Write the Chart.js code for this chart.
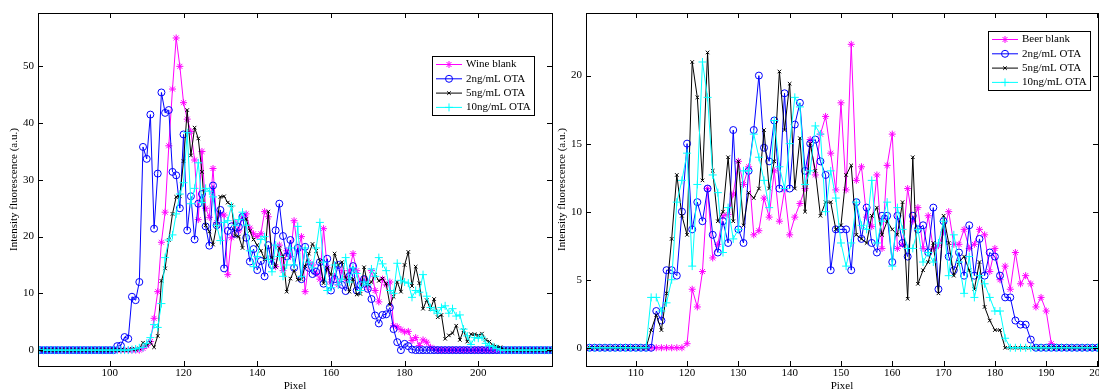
<!DOCTYPE html>
<html>
<head>
<meta charset="utf-8">
<script src="https://cdn.jsdelivr.net/npm/chart.js@4.4.1/dist/chart.umd.min.js"></script>
<style>
  html, body { margin: 0; padding: 0; background: #fff; }
  #wrap { position: relative; width: 1099px; height: 391px; overflow: hidden; }
  canvas { position: absolute; top: 0; }
  #wineChart { left: 0; }
  #beerChart { left: 556px; }
</style>
</head>
<body>
<div id="wrap">
  <canvas id="wineChart" width="556" height="391"></canvas>
  <canvas id="beerChart" width="543" height="391"></canvas>
</div>
<script>
// ---- left panel: wine, pixels 81..220 ----
const wineXTicks = [100, 120, 140, 160, 180, 200];
const wineYTicks = [0, 10, 20, 30, 40, 50];
const wineLabels = ['Wine blank', '2ng/mL OTA', '5ng/mL OTA', '10ng/mL OTA'];

const wineBlank = [
  0,0,0,0,0,0,0,0,0,0,0,0,0,0,0,0,0,0,0,0,0,0,0,0,0,0,0,0,
  0.3,0.8,1.5,5.6,10.3,19,24.3,36,46,55,50,43.6,40.7,38.5,33.5,23,35,25,23.4,32,22.5,24,
  23.8,13.3,19.8,22.5,21,23.5,24,21.5,20.5,20,20.5,24.4,23.5,16,14.7,18.5,14,17.5,16.5,22.8,
  17.5,20,10.3,15.5,15,13.5,12.5,21.4,14.5,12,13,11.5,14,12.5,14,17,14,12,12.5,11,
  14,10.5,8.5,12.5,11.5,12,4.3,4.1,3.6,3.2,3.3,1.7,2.2,0.8,1.8,1.4,0.5,0.2,
  0,0,0,0,0,0,0,0,0,0,0,0,0,0,0,0,0,0,0,0,0,0,0,0,0,0,0,0,0,0,0,0
];
const wine2 = [
  0,0,0,0,0,0,0,0,0,0,0,0,0,0,0,0,0,0,0,0,0,
  0.7,0.8,2.3,2.0,9.4,8.8,12,35.8,33.7,41.5,21.4,31.1,45.4,41.8,42.3,31.4,30.8,25,38,
  21.1,27.1,19.5,25.8,27.5,21.8,18.4,29,22,24.7,14.4,21,21.8,20.5,21.7,23.5,19.8,15.6,17.8,14.1,
  15.7,13,18.5,15,21.1,25.8,20.1,16.5,19.4,14.5,18,12.5,18.2,14.5,13.4,13.8,15.5,11.7,16.1,10.5,
  12.5,15,11.5,10.4,13,14.8,10.5,11.5,12.5,10.8,9,6.1,4.7,6.2,6.3,7.5,3.7,1.4,0,1.1,0.7,0.1,
  0,0,0,0,0,0,0,0,0,0,0,0,0,0,0,0,0,0,0,0,0,0,0,0,0,0,0,0,0,0,0,0,0,0,0,0,0,0
];
const wine5 = [
  0,0,0,0,0,0,0,0,0,0,0,0,0,0,0,0,0,0,0,0,0,0,0,0,0,
  0.2,0.1,0.3,1.3,0.9,1.3,0.5,2.5,12.2,14.4,19.4,24,27,27.1,33.3,
  42.3,34.3,39.2,37.3,31.4,22,20.9,18.6,22,27,27.1,26,25.5,20.2,20,18,23.1,21,19.5,18.5,
  17.5,16,24.4,16.3,14.7,18,16.5,10.3,12.6,14,12.4,12.5,14.8,17,18.7,17.5,15.7,11.8,14.5,13.3,
  17,15,15.5,12.7,10.3,12.5,9.8,9.9,14.6,11.5,12,13.3,12.2,12.6,11.7,8,9.4,12,10.3,15,
  17.3,11.3,14.7,11.8,7.3,8.8,7.2,9,5.8,6.2,2,2.6,3,4.3,1.8,3.5,1.5,2.8,2.8,2.6,
  2.9,1.8,1.5,0.8,0.6,0.5,0.1,
  0,0,0,0,0,0,0,0,0,0,0,0,0
];
const wine10 = [
  0,0,0,0,0,0,0,0,0,0,0,0,0,0,0,0,0,0,0,0,0,0,0,0,0,
  0.1,0.2,0.4,0.5,1.2,2.2,4.5,4,8.2,16.3,19.4,20.3,24,27.5,29.5,
  38.3,25.8,28.5,33,26,28.5,28,27,22,19.3,22.5,22.8,25.4,22,23,24.3,22,17.5,14.7,16.5,
  19.5,20,16,13.8,18.5,16.5,13,15,18,15,21.8,13,18,15.5,14.5,18,22.5,15.5,10.5,11,
  15,11.5,12.5,16.3,12,14.5,13.5,10.5,12,11.5,14.3,13,16.3,15.2,14,10.5,10,15.3,12.3,12,
  11.8,9.3,10.5,10.2,13.3,9.5,7.5,7,6.5,7.5,7.8,6.5,7.3,6,6.2,3.7,2.5,1,2.2,2.1,
  2.3,1.2,0.8,0.6,0.3,
  0,0,0,0,0,0,0,0,0,0,0,0,0,0,0
];

// ---- right panel: beer, pixels 101..200 ----
const beerXTicks = [110, 120, 130, 140, 150, 160, 170, 180, 190, 200];
const beerYTicks = [0, 5, 10, 15, 20];
const beerLabels = ['Beer blank', '2ng/mL OTA', '5ng/mL OTA', '10ng/mL OTA'];

const beerBlank = [
  0,0,0,0,0,0,0,0,0,0,0,0,0,0,0,0,0,0,0,
  0.3,4.3,3,5.6,11.7,6.6,7.6,9.7,9.8,11.3,13.7,12,13.3,8.3,8.6,11,9.6,13,9.3,11.6,
  8.3,9.6,10.6,11.7,15.3,12.7,15.7,17,14.3,11.6,18,11.6,22.3,12.3,13.3,9.6,8.9,12.7,7.3,13.4,
  15.7,7.3,7.6,11.7,9.3,10.3,7.3,9.7,7.3,7.5,8.5,10,7.6,7.6,8.7,7.3,7.6,8.7,8.3,5.6,
  7.3,5,6,4.3,7,4.7,5.3,4.7,3,3.7,2.7,0.3,
  0,0,0,0,0,0,0,0,0
];
const beer2 = [
  0,0,0,0,0,0,0,0,0,0,0,0,0,
  2.7,2,5.7,5.7,5.3,10,15,8.7,10.7,9.3,11.7,8.3,7,9.3,7.7,16,8.7,7.7,13,16,
  20,14.7,13.7,16.7,11.7,18.7,11.7,16.4,18,13,15,15.3,13.7,12.7,5.7,8.7,8.7,8.7,5.7,10.7,
  8,10.3,7.7,7,9.7,9.7,6.3,9.7,7.7,6.7,9.7,8.7,9,7,10.3,4.3,9.3,6.7,5.7,7,
  5.3,9,5.3,8,5.3,7,6.7,5.3,3.7,3.7,2,1.7,1.7,0.6,
  0,0,0,0,0,0,0,0,0,0,0,0,0
];
const beer5 = [
  0,0,0,0,0,0,0,0,0,0,0,0,
  1.3,2.4,1.3,4,8,12.7,9.7,8.3,21,18.4,12.3,21.7,13,9.3,10,14,9.3,13.7,9,11.4,
  11,11.7,16,11.7,13.7,20.3,16,19.4,11.7,15.4,10,15,13,9.7,10.7,10.7,8.7,9,12.7,13.4,
  8.3,8,7.7,9.7,10.3,8.3,9.3,8.7,8.3,10.7,3.6,14,4.7,5.7,6.3,7.7,4,9.7,7.7,5.3,
  6.3,6.7,5.7,4.3,6.3,3,2,1.3,1.3,
  0,0,0,0,0,0,0,0,0,0,0,0,0,0,0,0,0,0,0
];
const beer10 = [
  0,0,0,0,0,0,0,0,0,0,0,0,
  3.7,3.7,2.7,3.3,5,10.7,12.3,14.3,6,12,21,18.4,12.7,11.4,7,10.3,8,8.7,13,13,
  15.7,14,12.3,10.3,16.7,13.3,11.7,15,18.4,17.7,12,13,16.3,15.7,10,13,11,7.7,6,7.7,
  10.7,9,8.7,12.3,7.7,9.3,10.7,6,10.3,8.7,7.3,7.3,8.7,6.3,7,6.3,7.7,9.3,5.3,8.3,
  6.3,4,6.7,3.7,5.3,4.7,3.7,2.7,2.7,0.7,
  0,0,0,0,0,0,0,0,0,0,0,0,0,0,0,0,0,0
];

const range = (a, b) => Array.from({length: b - a + 1}, (_, i) => a + i);
const winePixels = range(81, 220);
const beerPixels = range(101, 200);

Chart.defaults.font.family = '"Liberation Serif", "Times New Roman", serif';
Chart.defaults.font.size = 11;
Chart.defaults.color = '#000';

// matlab style: full box with inward ticks on all four sides
const boxAxes = {
    id: 'boxAxes',
    afterDatasetsDraw(chart) {
        const { ctx, chartArea: a, scales: { x, y } } = chart;
        const len = 5;
        ctx.save();
        ctx.strokeStyle = '#000';
        ctx.lineWidth = 1;
        ctx.beginPath();
        x.ticks.forEach(t => {
            const px = Math.round(x.getPixelForValue(t.value)) + 0.5;
            ctx.moveTo(px, a.bottom); ctx.lineTo(px, a.bottom - len);
            ctx.moveTo(px, a.top); ctx.lineTo(px, a.top + len);
        });
        y.ticks.forEach(t => {
            const py = Math.round(y.getPixelForValue(t.value)) + 0.5;
            ctx.moveTo(a.left, py); ctx.lineTo(a.left + len, py);
            ctx.moveTo(a.right, py); ctx.lineTo(a.right - len, py);
        });
        ctx.stroke();
        ctx.strokeRect(Math.round(a.left) + 0.5, Math.round(a.top) + 0.5,
            Math.round(a.right - a.left), Math.round(a.bottom - a.top));
        ctx.restore();
    }
};

const boxLegend = {
    id: 'boxLegend',
    afterDraw(chart, args, opts) {
        const { ctx } = chart;
        const { left, top, width, height } = opts;
        ctx.save();
        ctx.fillStyle = '#fff';
        ctx.fillRect(left, top, width, height);
        ctx.strokeStyle = '#000';
        ctx.lineWidth = 1;
        ctx.strokeRect(left + 0.5, top + 0.5, width, height);
        ctx.font = '11px "Liberation Serif", serif';
        ctx.textBaseline = 'middle';
        chart.data.datasets.forEach((ds, i) => {
            const yy = top + 8.5 + i * 14.3;
            ctx.strokeStyle = ds.borderColor;
            ctx.lineWidth = 1;
            ctx.beginPath();
            ctx.moveTo(left + 4, yy);
            ctx.lineTo(left + 30, yy);
            ctx.stroke();
            ctx.fillStyle = 'rgba(0,0,0,0)';
            Chart.helpers.drawPoint(ctx, {
                pointStyle: ds.pointStyle, radius: ds.pointRadius, borderWidth: 1, rotation: 0
            }, left + 17, yy);
            ctx.fillStyle = '#000';
            ctx.fillText(ds.label, left + 34, yy);
        });
        ctx.restore();
    }
};

function makeSet(label, pixels, values, color, style, radius, order) {
    return {
        label,
        data: values.map((v, i) => ({ x: pixels[i], y: v })),
        borderColor: color,
        backgroundColor: 'rgba(0,0,0,0)',
        pointBorderColor: color,
        pointBackgroundColor: 'rgba(0,0,0,0)',
        pointStyle: style,
        pointRadius: radius,
        pointBorderWidth: 1,
        borderWidth: 1,
        tension: 0,
        order
    };
}

function makeChart(id, cfg) {
    return new Chart(document.getElementById(id), {
        type: 'line',
        data: {
            datasets: [
                makeSet(cfg.labels[0], cfg.pixels, cfg.series[0], '#ff00ff', 'star', 3.5, 3),
                makeSet(cfg.labels[1], cfg.pixels, cfg.series[1], '#0000ff', 'circle', 3.5, 2),
                makeSet(cfg.labels[2], cfg.pixels, cfg.series[2], '#000000', 'crossRot', 2.5, 1),
                makeSet(cfg.labels[3], cfg.pixels, cfg.series[3], '#00ffff', 'cross', 4, 0)
            ]
        },
        options: {
            responsive: false,
            animation: false,
            devicePixelRatio: 1,
            layout: {
                autoPadding: false,
                padding: { left: 0, right: cfg.padRight, top: 13, bottom: 0 }
            },
            plugins: {
                legend: { display: false },
                tooltip: { enabled: false },
                boxLegend: cfg.legend
            },
            scales: {
                x: {
                    type: 'linear',
                    min: cfg.xMin,
                    max: cfg.xMax,
                    afterBuildTicks: s => { s.ticks = cfg.xTicks.map(v => ({ value: v })); },
                    afterFit: s => {
                        s.height = 25;
                        s.paddingLeft = 0;
                        s.paddingRight = 0;
                    },
                    grid: { display: false, drawTicks: false },
                    border: { display: false },
                    ticks: { padding: 1, maxRotation: 0, autoSkip: false },
                    title: { display: true, text: 'Pixel', padding: { top: 0, bottom: -2 } }
                },
                y: {
                    type: 'linear',
                    min: cfg.yMin,
                    max: cfg.yMax,
                    afterBuildTicks: s => { s.ticks = cfg.yTicks.map(v => ({ value: v })); },
                    afterFit: s => {
                        s.width = cfg.yWidth;
                        s.paddingTop = 0;
                        s.paddingBottom = 0;
                    },
                    grid: { display: false, drawTicks: false },
                    border: { display: false },
                    ticks: { padding: 4, autoSkip: false },
                    title: {
                        display: true,
                        text: 'Intensity fluorescence (a.u.)',
                        padding: { top: cfg.yTitlePad, bottom: 0 }
                    }
                }
            }
        },
        plugins: [boxAxes, boxLegend]
    });
}

makeChart('wineChart', {
    labels: wineLabels,
    pixels: winePixels,
    series: [wineBlank, wine2, wine5, wine10],
    xMin: 80.5, xMax: 220, xTicks: wineXTicks,
    yMin: -2.8, yMax: 59.4, yTicks: wineYTicks,
    yWidth: 38, yTitlePad: 7.4, padRight: 4,
    legend: { left: 432, top: 56, width: 102, height: 59 }
});

makeChart('beerChart', {
    labels: beerLabels,
    pixels: beerPixels,
    series: [beerBlank, beer2, beer5, beer10],
    xMin: 100.3, xMax: 200.1, xTicks: beerXTicks,
    yMin: -1.34, yMax: 24.6, yTicks: beerYTicks,
    yWidth: 30, yTitlePad: 0, padRight: 1,
    legend: { left: 432, top: 31, width: 102, height: 59 }
});
</script>
</body>
</html>
